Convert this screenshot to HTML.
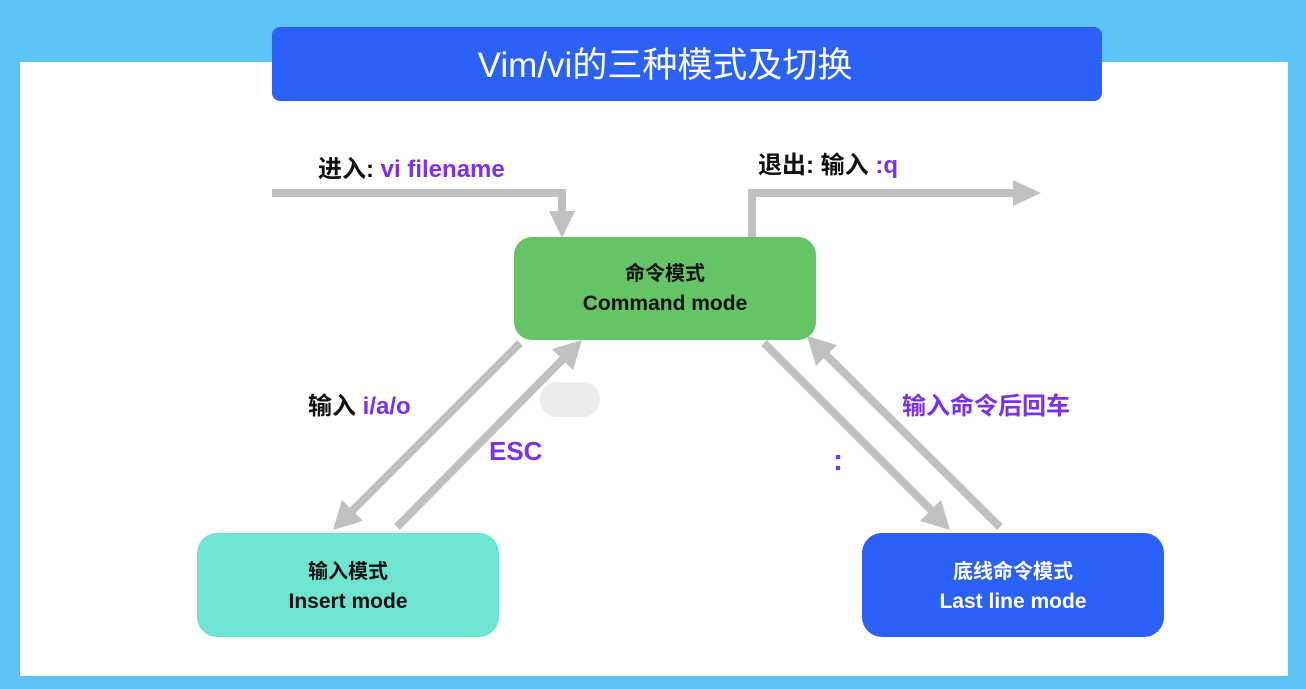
<!DOCTYPE html>
<html><head><meta charset="utf-8"><style>
body{margin:0;width:1306px;height:689px;overflow:hidden;background:#5bc4f5;}
svg{display:block}
text{font-family:"Liberation Sans","Noto Sans CJK SC",sans-serif;}
</style></head><body>
<svg width="1306" height="689" viewBox="0 0 1306 689">
<rect x="0" y="0" width="1306" height="689" fill="#5bc4f5"/>
<rect x="20" y="62" width="1268" height="614" fill="#ffffff"/>
<rect x="272" y="27" width="830" height="74" rx="8" fill="#2b61f6"/>
<text x="665" y="77" text-anchor="middle" font-size="35" fill="#fff">Vim/vi的三种模式及切换</text>

<g stroke="#c0c0c0" stroke-width="8" fill="none">
<polyline points="272,193 562,193 562,215"/>
<polyline points="752,238 752,193 1015,193"/>
<line x1="520" y1="343" x2="350" y2="513"/>
<line x1="397" y1="527" x2="565" y2="357"/>
<line x1="764" y1="343" x2="935" y2="514"/>
<line x1="1000" y1="527" x2="822" y2="351"/>
</g>
<g fill="#c0c0c0">
<polygon points="549,211 575,211 562,238"/>
<polygon points="1013,180 1013,206 1041,193"/>
<polygon points="333,530 342,500 363,521"/>
<polygon points="582,340 573,370 552,349"/>
<polygon points="950,530 920,521 941,500"/>
<polygon points="807,336 837,345 816,366"/>
</g>

<rect x="514" y="237" width="302" height="103" rx="18" fill="#64c466"/>
<text x="665" y="280" text-anchor="middle" font-size="20" font-weight="bold" fill="#111">命令模式</text>
<text x="665" y="310" text-anchor="middle" font-size="21" font-weight="bold" fill="#111">Command mode</text>

<rect x="197" y="533" width="302" height="104" rx="20" fill="#6ee4d1"/>
<text x="348" y="578" text-anchor="middle" font-size="20" font-weight="bold" fill="#111">输入模式</text>
<text x="348" y="608" text-anchor="middle" font-size="21" font-weight="bold" fill="#111">Insert mode</text>

<rect x="862" y="533" width="302" height="104" rx="20" fill="#2b61f6"/>
<text x="1013" y="578" text-anchor="middle" font-size="20" font-weight="bold" fill="#fff">底线命令模式</text>
<text x="1013" y="608" text-anchor="middle" font-size="21" font-weight="bold" fill="#fff">Last line mode</text>

<text x="318" y="177" font-size="24" font-weight="bold" fill="#111">进入: <tspan fill="#7b2ff2">vi filename</tspan></text>
<text x="758" y="173" font-size="24" font-weight="bold" fill="#111">退出:  输入 <tspan fill="#7b2ff2">:q</tspan></text>
<text x="308" y="414" font-size="24" font-weight="bold" fill="#111">输入 <tspan fill="#7b2ff2">i/a/o</tspan></text>
<rect x="540" y="382" width="60" height="35" rx="17" fill="#ececec"/>
<text x="489" y="460" font-size="26" font-weight="bold" fill="#7b2ff2">ESC</text>
<text x="833" y="470" font-size="30" font-weight="bold" fill="#7b2ff2">:</text>
<text x="902" y="414" font-size="24" font-weight="bold" fill="#7b2ff2">输入命令后回车</text>
</svg>
</body></html>
